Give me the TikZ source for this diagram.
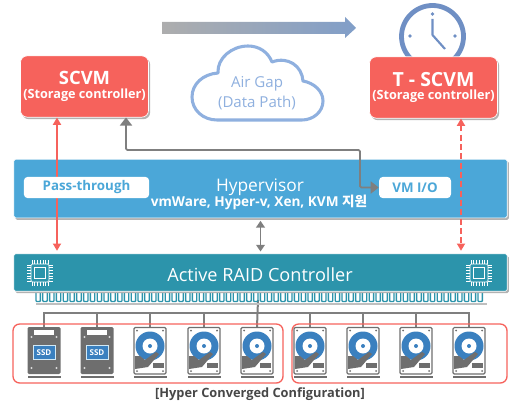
\documentclass[tikz,border=0pt]{standalone}
\usepackage{fontspec}
\setmainfont{Open Sans}
\newfontfamily\krfont{Noto Sans CJK KR}
\usetikzlibrary{arrows.meta,shadows,positioning,calc}
\definecolor{vmred}{HTML}{F6625C}
\definecolor{hvblue}{HTML}{4BA7D8}
\definecolor{raidteal}{HTML}{2C94AB}
\definecolor{airblue}{HTML}{8FB0DF}
\definecolor{clockblue}{HTML}{6F8FC4}
\definecolor{diskblue}{HTML}{3A80BF}
\definecolor{linegrey}{HTML}{7F7F7F}
\definecolor{ssdgrey}{HTML}{6E6E6E}
\tikzset{
	softshadow/.style={drop shadow={shadow xshift=1.2pt,shadow yshift=-1.5pt,fill=black!30,opacity=1}},
	vmbox/.style={rounded corners=5pt,fill=vmred,draw=white,line width=0.5pt,softshadow,text=white,minimum width=96pt,minimum height=46pt,align=center,inner sep=0pt},
	layerbox/.style={rounded corners=1.2pt,draw=white,line width=0.5pt,softshadow,text=white,minimum width=370pt,inner sep=0pt},
	taglabel/.style={rounded corners=3pt,fill=white,text=hvblue,minimum height=16pt,inner sep=0pt,font=\fontsize{10}{12}\selectfont\bfseries},
	redline/.style={vmred,line width=1.3pt,{Triangle[length=5.5pt,width=6pt]}-{Triangle[length=5.5pt,width=6pt]}},
	greyline/.style={linegrey,line width=1.3pt,{Triangle[length=6pt,width=9pt]}-{Triangle[length=6pt,width=9pt]}},
	busline/.style={linegrey,line width=1.5pt},
	groupbox/.style={vmred,line width=1pt,rounded corners=5pt},
	pics/chipicon/.style={code={
		\draw[white,line width=0.6pt,rounded corners=1pt] (-9,-9) rectangle (9,9);
		\draw[white,line width=0.9pt] (-5.5,-5.5) rectangle (5.5,5.5);
		\foreach \p in {-8,-5.3,...,8.2} {
			\draw[white,line width=0.35pt] (\p,-13) -- (\p,-9) (\p,9) -- (\p,13);
			\draw[white,line width=0.35pt] (-13,\p) -- (-9,\p) (9,\p) -- (13,\p);
		}
	}},
	pics/ssddrive/.style={code={
		\fill[ssdgrey,rounded corners=1pt] (-16.5,0) rectangle (16.5,47);
		\fill[ssdgrey] (-16.5,48.5) rectangle (16.5,51);
		\foreach \p in {-9,-7,...,9}
			\fill[white] (\p-0.6,3) rectangle (\p+0.6,8);
		\foreach \sx/\sy in {-12.5/10,12.5/10,-12.5/41,12.5/41}
			\fill[white!85!black] (\sx,\sy) circle (1.2);
		\node[draw=white!75!hvblue,line width=0.6pt,fill=diskblue,text=white,minimum width=16.5pt,minimum height=11pt,inner sep=0pt,font=\fontsize{6}{7}\selectfont\bfseries] at (0,25.5) {SSD};
	}},
	pics/hdddrive/.style={code={
		\draw[ssdgrey,fill=white,line width=0.9pt,rounded corners=1pt] (-16,0.5) rectangle (16,47);
		\fill[ssdgrey] (-16.5,48.5) rectangle (16.5,51);
		\fill[diskblue] (0,19) circle (14.5);
		\fill[white] (0,19) circle (7.5);
		\fill[diskblue] (0,19) circle (2);
		\fill[ssdgrey] (-15,29) -- (-10,29) -- (-5,33) -- (6,25) -- (9,27) -- (-2,40) -- (-15,42) -- cycle;
		\fill[ssdgrey] (3,35.5) rectangle (13.5,41);
		\foreach \sx/\sy in {-13/3.5,13/3.5,-13/44,13/44}
			\fill[ssdgrey] (\sx,\sy) circle (1);
	}},
}
\begin{document}
\begin{tikzpicture}[x=0.75pt,y=-0.75pt]
	\useasboundingbox (0,0) rectangle (516,406);
	% time arrow
	\path[left color=black!32,right color=airblue!90!black,shading angle=90] (162,22) -- (345,22) -- (345,17) -- (356,28) -- (345,38) -- (345,34) -- (162,34) -- cycle;
	% clock
	\draw[clockblue,line width=3.6pt] (432.5,36.5) circle (31);
	\draw[clockblue,line width=1.6pt,line join=round] (432.5,19) -- (432.5,35) -- (445,49);
	\foreach \px/\py in {432.5/14,410/36,455/36}
		\fill[clockblue] (\px,\py) circle (1.8);
	% cloud
	\draw[airblue,line width=2.3pt,fill=white,line join=round] (217,120) .. controls (203,120) and (192,110) .. (192,97) .. controls (192,84) and (203,74) .. (218,73) .. controls (217,58) and (232,46) .. (248,46) .. controls (259,46) and (268,52) .. (272,62) .. controls (288,56) and (302,66) .. (303,81) .. controls (314,83) and (323,91) .. (323,101) .. controls (323,112) and (313,120) .. (302,120) -- cycle;
	\node[text=airblue,font=\fontsize{11.3}{14}\selectfont,align=center,inner sep=0pt] (airgap) at (257,93.5) {Air Gap\\[1pt](Data Path)};
	% layers
	\node[layerbox,fill=hvblue,minimum height=44pt] (hypervisor) at (260.5,188.5) {};
	\coordinate (redline) at (57,118);
	\coordinate (dashline) at (461,119);
	\coordinate (gapmid) at (360,150);
	\coordinate (gaptop) at (126,118);
	\coordinate (bustop) at (258,300);
	% bus to the drives
	\foreach \x [count=\i] in {44,97,150,204,257,310,363,416,469}
		\coordinate (drive\i) at (\x,327);
	\draw[busline] (drive5) -- (bustop);
	\draw[busline] (drive1) |- (drive9 |- 0,313) -- (drive9);
	\foreach \i in {2,3,4,6,7,8}
		\draw[busline] (drive\i) -- (drive\i |- 0,313);
	% edge connector
	\draw[black!25,line width=1.3pt] (36,304) -- (487,304);
	\foreach \i in {0,...,65}
		\draw[raidteal,line width=1pt,rounded corners=0.6pt] (36+6.8*\i,290) -- (36+6.8*\i,301.5) -- (40.4+6.8*\i,301.5) -- (40.4+6.8*\i,290);
	\node[layerbox,fill=raidteal,minimum height=28pt] (raid) at (260.5,272.5) {};
	\node[text=white,font=\fontsize{13.6}{16}\selectfont,inner sep=0pt] (raidlabel) at (260,275) {Active RAID Controller};
	\pic at (40,273) {chipicon};
	\pic at (479,273) {chipicon};
	\node[vmbox] (scvm) at (84.5,86.5) {{\fontsize{13.8}{16}\selectfont\bfseries SCVM}\\[-2pt]{\fontsize{9.5}{11}\selectfont\bfseries (Storage controller)}};
	\node[vmbox] (tscvm) at (433.5,87.5) {{\fontsize{14.6}{16}\selectfont\bfseries T - SCVM}\\[-2pt]{\fontsize{9.5}{11}\selectfont\bfseries (Storage controller)}};
	% connectors
	\draw[redline,shorten >=2pt] (scvm.south -| redline) -- (raid.north -| redline);
	\draw[redline,dash pattern=on 4.5pt off 2.5pt,shorten >=2pt] (tscvm.south -| dashline) -- (raid.north -| dashline);
	\node[taglabel,minimum width=94pt] (passthrough) at (86.5,187.5) {Pass-through};
	\node[taglabel,minimum width=54pt] (vmio) at (415,187.5) {VM I/O};
	\draw[greyline,rounded corners=1pt] (vmio.west) -| (gapmid) -| (scvm.south -| gaptop);
	\draw[greyline,line width=1.1pt,{Triangle[length=5pt,width=6.5pt]}-{Triangle[length=5pt,width=6.5pt]},shorten <=2pt,shorten >=1.5pt] (hypervisor.south) -- (raid.north);
	% hypervisor labels
	\node[text=white,font=\fontsize{13}{15}\selectfont,inner sep=0pt] (hvlabel) at (260,187) {Hypervisor};
	\node[text=white,font=\fontsize{10.2}{12}\selectfont\bfseries,inner sep=0pt] (hvlist) at (259,202) {vmWare, Hyper-v, Xen, KVM {\krfont 지원}};
	% drives
	\foreach \i in {1,2}
		\pic at (drive\i) {ssddrive};
	\foreach \i in {3,...,9}
		\pic at (drive\i) {hdddrive};
	\draw[groupbox] (13,324) rectangle (283,383);
	\draw[groupbox] (292,324) rectangle (507,383);
	\node[text=black!72,font=\fontsize{9.6}{11}\selectfont\bfseries,inner sep=0pt] (caption) at (260,394.5) {[Hyper Converged Configuration]};
\end{tikzpicture}
\end{document}
